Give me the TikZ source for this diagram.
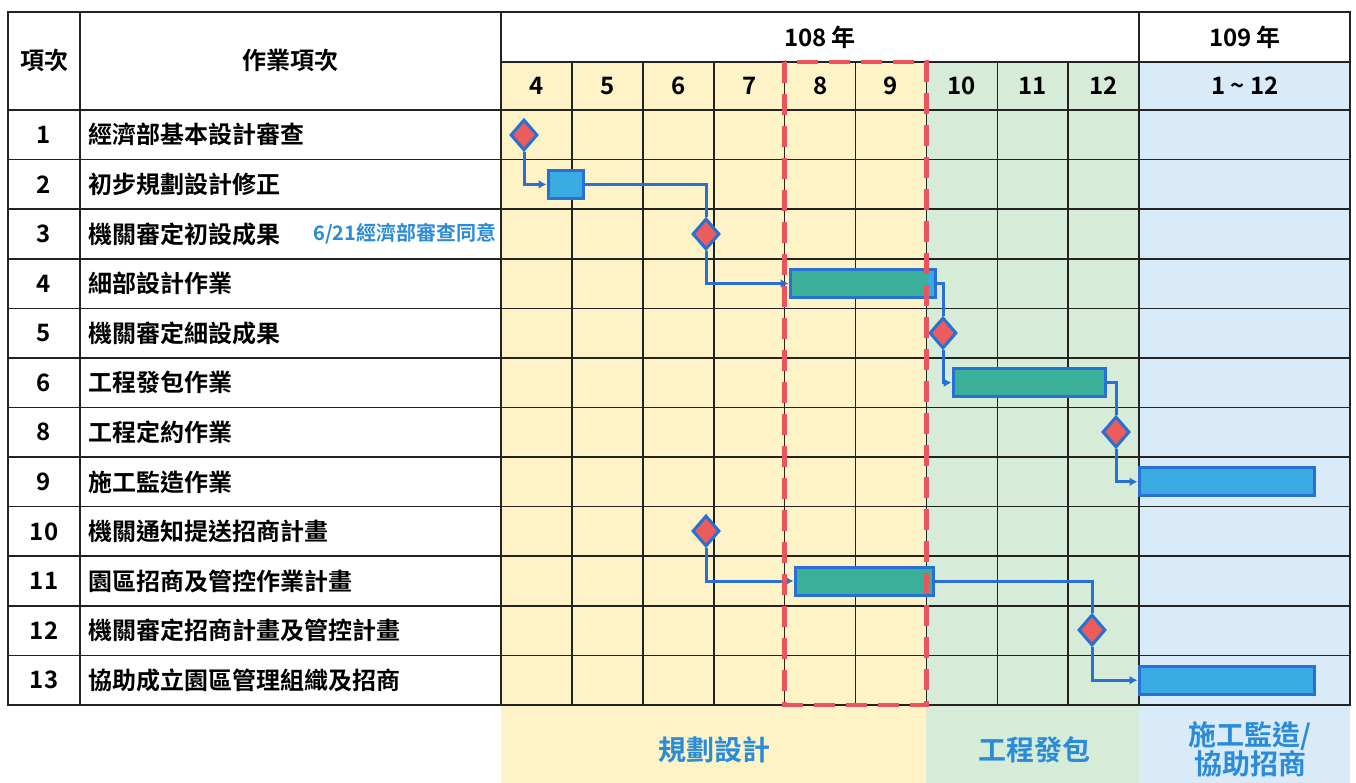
\documentclass[tikz,border=0pt]{standalone}
\usepackage{fontspec}
\setmainfont{Noto Sans CJK TC}[BoldFont={Noto Sans CJK TC Bold}]
\usetikzlibrary{arrows.meta,shapes.geometric}

\definecolor{planyellow}{RGB}{253,243,199}
\definecolor{bidgreen}{RGB}{214,235,216}
\definecolor{buildblue}{RGB}{217,235,249}
\definecolor{gridline}{RGB}{35,35,35}
\definecolor{barteal}{RGB}{58,176,154}
\definecolor{barblue}{RGB}{58,170,226}
\definecolor{edgeblue}{RGB}{40,112,210}
\definecolor{milered}{RGB}{236,92,92}
\definecolor{dashred}{RGB}{234,84,92}
\definecolor{labelblue}{RGB}{42,140,216}

\newcommand\cellfont{\fontsize{24}{28}\selectfont\bfseries}
\newcommand\phasefont{\fontsize{28}{32}\selectfont\bfseries}

\tikzset{
  milestone/.style={diamond, fill=milered, draw=edgeblue, line width=3pt,
    minimum width=27pt, minimum height=31pt, inner sep=0pt},
  tealbar/.style={rectangle, fill=barteal, draw=edgeblue, line width=3pt,
    minimum height=28pt, inner sep=0pt},
  bluebar/.style={tealbar, fill=barblue},
  link/.style={draw=edgeblue, line width=3pt},
  linkarrow/.style={link, -{Latex[length=8pt,width=9pt]}},
}

\begin{document}
\begin{tikzpicture}[x=1pt,y=-1pt]
    \useasboundingbox[fill=white] (0,0) rectangle (1356,783);

    % phase backgrounds
    \fill[planyellow] (501,62) rectangle (926.4,783);
    \fill[bidgreen] (926.4,62) rectangle (1139.1,783);
    \fill[buildblue] (1139.1,62) rectangle (1350,783);

    % grid
    \draw[gridline, line width=1.6pt] (8,12) rectangle (1350,705);
    \draw[gridline, line width=1.6pt] (501,62) -- (1350,62);
    \foreach \r in {0,...,11}
        \draw[gridline, line width=1.6pt] (8,110+49.58*\r) -- (1350,110+49.58*\r);
    \foreach \x in {80,501,1139.1}
        \draw[gridline, line width=1.6pt] (\x,12) -- (\x,705);
    \foreach \k in {1,...,8}
        \draw[gridline, line width=1.6pt] (501+70.9*\k,62) -- (501+70.9*\k,705);

    % header
    \node[font=\cellfont] (hnum) at (44,60) {項次};
    \node[font=\cellfont] (htask) at (290,60) {作業項次};
    \node[font=\cellfont] (y108) at (820,37) {108 年};
    \node[font=\cellfont] (y109) at (1245,37) {109 年};
    \foreach \m [count=\k from 0] in {4,5,6,7,8,9,10,11,12}
        \node[font=\cellfont] (m\m) at (536.5+70.9*\k,86) {\m};
    \node[font=\cellfont] (mall) at (1245,86) {1 \textasciitilde{} 12};

    % task rows
    \foreach \n/\t [count=\i from 0] in {1/經濟部基本設計審查, 2/初步規劃設計修正,
        3/機關審定初設成果, 4/細部設計作業, 5/機關審定細設成果, 6/工程發包作業,
        8/工程定約作業, 9/施工監造作業, 10/機關通知提送招商計畫,
        11/園區招商及管控作業計畫, 12/機關審定招商計畫及管控計畫,
        13/協助成立園區管理組織及招商} {
        \node[font=\cellfont] (n\n) at (44,134.8+49.58*\i) {\n};
        \node[font=\cellfont, anchor=west, inner sep=0pt] (t\n) at (88,134.8+49.58*\i) {\t};
    }
    \node[font=\fontsize{20}{24}\selectfont\bfseries, text=labelblue, anchor=west, inner sep=0pt]
        (note) at (313,234) {6/21經濟部審查同意};

    % bars and milestones
    \node[milestone] (d1) at (524,135) {};
    \node[bluebar, minimum width=35pt] (b2) at (565.5,184.4) {};
    \node[milestone] (d3) at (706,234) {};
    \node[tealbar, minimum width=145pt] (b4) at (862.5,283.5) {};
    \fill[barblue] (928,271.5) rectangle (933.5,295.5);
    \node[milestone] (d5) at (943,333) {};
    \node[tealbar, minimum width=152pt] (b6) at (1029,382.7) {};
    \node[milestone] (d8) at (1116,432) {};
    \node[bluebar, minimum width=175pt] (b9) at (1226.5,481.8) {};
    \node[milestone] (d10) at (706,531) {};
    \node[tealbar, minimum width=138pt] (b11) at (864,581) {};
    \node[milestone] (d12) at (1092,630) {};
    \node[bluebar, minimum width=175pt] (b13) at (1226.5,680.2) {};

    % links
    \draw[linkarrow] (d1.south) |- (b2.west);
    \draw[link] (b2.east) -| (d3.north);
    \draw[linkarrow] (d3.south) |- (b4.west);
    \draw[link] (b4.east) -| (d5.north);
    \draw[linkarrow] (d5.south) |- (b6.west);
    \draw[link] (b6.east) -| (d8.north);
    \draw[linkarrow] (d8.south) |- (b9.west);
    \draw[linkarrow] (d10.south) |- (b11.west);
    \draw[link] (b11.east) -| (d12.north);
    \draw[linkarrow] (d12.south) |- (b13.west);

    % months under review
    \draw[dashred, line width=4.5pt, dash pattern=on 21pt off 11pt] (784.6,62) rectangle (926.4,705);

    % phases
    \node[font=\phasefont, text=labelblue] (plan) at (714,750) {規劃設計};
    \node[font=\phasefont, text=labelblue] (bid) at (1034,750) {工程發包};
    \node[font=\phasefont, text=labelblue, align=center] (build) at (1250,749)
        {施工監造/\\[-3pt]協助招商};
\end{tikzpicture}
\end{document}
